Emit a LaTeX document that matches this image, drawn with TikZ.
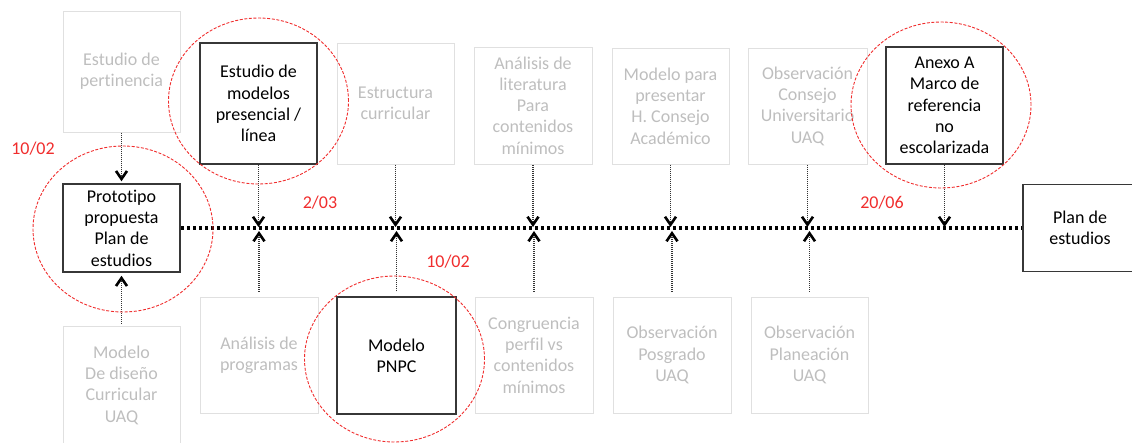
\documentclass[tikz,border=0pt]{standalone}
\usepackage{fontspec}
\setmainfont{Carlito}[Ligatures=NoCommon]
\usetikzlibrary{arrows.meta,shapes.geometric}
\definecolor{gtext}{RGB}{190,190,190}
\definecolor{gline}{RGB}{224,224,224}
\definecolor{dred}{RGB}{240,45,45}
\definecolor{bline}{RGB}{55,55,55}
\begin{document}
\begin{tikzpicture}[x=1pt,y=-1pt,
  every node/.style={font=\fontsize{18}{21.3}\selectfont, align=center, inner sep=0pt},
  gbox/.style={rectangle, draw=gline, line width=1pt, text=gtext},
  bbox/.style={rectangle, draw=bline, line width=1.5pt, text=black},
  redring/.style={ellipse, draw=dred, line width=0.9pt, dash pattern=on 3pt off 1.6pt, minimum width=180pt, minimum height=166pt},
  datelabel/.style={text=dred},
  conn/.style={draw=black!80, line width=1.8pt, dash pattern=on 1pt off 1pt,
    -{Straight Barb[length=8pt,width=11pt,line width=2.6pt,color=black]}},
  timeline/.style={draw=black, line width=3.2pt, dash pattern=on 3pt off 3pt}]
\useasboundingbox (0,0) rectangle (1132,442);
\clip (0,0) rectangle (1132,442);

% top row
\node[gbox, minimum width=117pt, minimum height=121pt] (pert) at (121.5,71.5) {Estudio de\\pertinencia};
\node[bbox, minimum width=117pt, minimum height=121pt] (modelos) at (258.5,103.5) {Estudio de\\modelos\\presencial /\\línea};
\node[gbox, minimum width=117pt, minimum height=121pt] (estruc) at (395.5,103.5) {Estructura\\curricular};
\node[gbox, minimum width=118pt, minimum height=117pt] (litera) at (533,105.5) {Análisis de\\literatura\\Para\\contenidos\\mínimos};
\node[gbox, minimum width=117pt, minimum height=116pt] (modpres) at (670.5,106) {Modelo para\\presentar\\H. Consejo\\Académico};
\node[gbox, minimum width=119pt, minimum height=116pt] (obscu) at (807.5,106) {Observación\\Consejo\\Universitario\\UAQ};
\node[bbox, minimum width=117pt, minimum height=117pt] (anexo) at (944.5,105.5) {Anexo A\\Marco de\\referencia\\no\\escolarizada};

% timeline boxes
\node[bbox, minimum width=117pt, minimum height=88pt] (proto) at (121.5,228) {Prototipo\\propuesta\\Plan de\\estudios};
\node[bbox, minimum width=114pt, minimum height=87pt] (plan) at (1080,228) {Plan de\\estudios};

% bottom row
\node[gbox, minimum width=117pt, minimum height=118pt] (modis) at (121.5,385) {Modelo\\De diseño\\Curricular\\UAQ};
\node[gbox, minimum width=118pt, minimum height=116pt] (anprog) at (259,355) {Análisis de\\programas};
\node[bbox, minimum width=119pt, minimum height=117pt] (pnpc) at (396.5,355.5) {Modelo\\PNPC};
\node[gbox, minimum width=118pt, minimum height=116pt] (congr) at (534,355) {Congruencia\\perfil vs\\contenidos\\mínimos};
\node[gbox, minimum width=118pt, minimum height=116pt] (obspos) at (672,355) {Observación\\Posgrado\\UAQ};
\node[gbox, minimum width=117pt, minimum height=116pt] (obsplan) at (809.5,355) {Observación\\Planeación\\UAQ};

% timeline
\draw[timeline] (proto.east) -- (plan.west);

% tip coordinates on the timeline
\coordinate (t1) at (258.5,227);
\coordinate (t2) at (395.5,227);
\coordinate (t3) at (533,227);
\coordinate (t4) at (670.5,227);
\coordinate (t5) at (807.5,227);
\coordinate (t6) at (944.5,227);
\coordinate (b1) at (259,231);
\coordinate (b2) at (396.5,231);
\coordinate (b3) at (534,231);
\coordinate (b4) at (672,231);
\coordinate (b5) at (809.5,231);

% connectors from top
\draw[conn, shorten >=2pt] (pert.south) -- (proto.north);
\draw[conn] (modelos.south) -- (t1);
\draw[conn] (estruc.south) -- (t2);
\draw[conn] (litera.south) -- (t3);
\draw[conn] (modpres.south) -- (t4);
\draw[conn] (obscu.south) -- (t5);
\draw[conn] (anexo.south) -- (t6);

% connectors from bottom
\draw[conn, shorten <=2pt, shorten >=3pt] (modis.north) -- (proto.south);
\draw[conn, shorten <=5pt] (anprog.north) -- (b1);
\draw[conn, shorten <=5pt] (pnpc.north) -- (b2);
\draw[conn, shorten <=5pt] (congr.north) -- (b3);
\draw[conn, shorten <=5pt] (obspos.north) -- (b4);
\draw[conn, shorten <=5pt] (obsplan.north) -- (b5);

% red highlight rings
\node[redring] (r1) at (123,229) {};
\node[redring] (r2) at (258.5,101) {};
\node[redring] (r3) at (394.5,359) {};
\node[redring] (r4) at (941,105) {};

% dates
\node[datelabel] (d1) at (33,149) {10/02};
\node[datelabel] (d2) at (320,203) {2/03};
\node[datelabel] (d3) at (448,262) {10/02};
\node[datelabel] (d4) at (882,203) {20/06};
\end{tikzpicture}
\end{document}
